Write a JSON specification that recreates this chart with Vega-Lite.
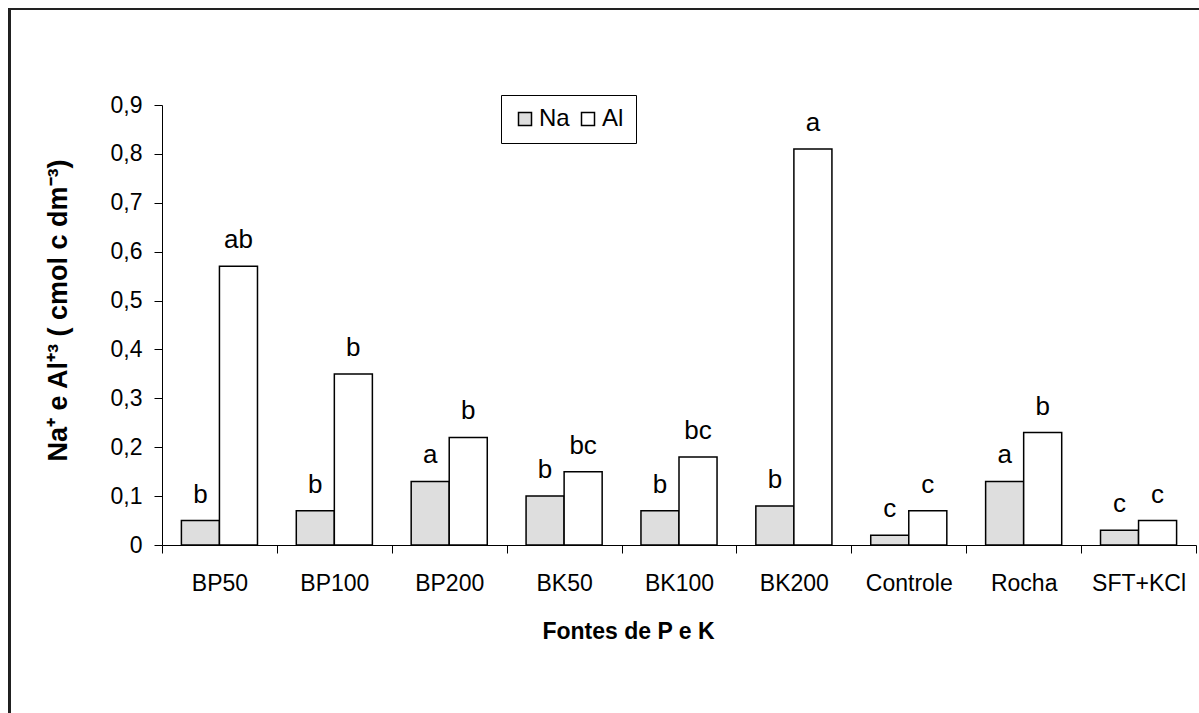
{
  "$schema": "https://vega.github.io/schema/vega-lite/v6.json",
  "width": 1034,
  "height": 440,
  "autosize": "none",
  "padding": {"left": 162, "top": 105, "right": 3, "bottom": 168},
  "background": "white",
  "config": {"view": {"stroke": null}, "font": "Liberation Sans"},
  "data": {
    "values": [
      {"fonte": "BP50", "serie": "Na", "valor": 0.05, "letra": "b"},
      {"fonte": "BP50", "serie": "Al", "valor": 0.57, "letra": "ab"},
      {"fonte": "BP100", "serie": "Na", "valor": 0.07, "letra": "b"},
      {"fonte": "BP100", "serie": "Al", "valor": 0.35, "letra": "b"},
      {"fonte": "BP200", "serie": "Na", "valor": 0.13, "letra": "a"},
      {"fonte": "BP200", "serie": "Al", "valor": 0.22, "letra": "b"},
      {"fonte": "BK50", "serie": "Na", "valor": 0.10, "letra": "b"},
      {"fonte": "BK50", "serie": "Al", "valor": 0.15, "letra": "bc"},
      {"fonte": "BK100", "serie": "Na", "valor": 0.07, "letra": "b"},
      {"fonte": "BK100", "serie": "Al", "valor": 0.18, "letra": "bc"},
      {"fonte": "BK200", "serie": "Na", "valor": 0.08, "letra": "b"},
      {"fonte": "BK200", "serie": "Al", "valor": 0.81, "letra": "a"},
      {"fonte": "Controle", "serie": "Na", "valor": 0.02, "letra": "c"},
      {"fonte": "Controle", "serie": "Al", "valor": 0.07, "letra": "c"},
      {"fonte": "Rocha", "serie": "Na", "valor": 0.13, "letra": "a"},
      {"fonte": "Rocha", "serie": "Al", "valor": 0.23, "letra": "b"},
      {"fonte": "SFT+KCl", "serie": "Na", "valor": 0.03, "letra": "c"},
      {"fonte": "SFT+KCl", "serie": "Al", "valor": 0.05, "letra": "c"}
    ]
  },
  "resolve": {"scale": {"x": "independent"}, "axis": {"x": "independent"}},
  "layer": [
    {
      "mark": {"type": "rect", "fill": null, "stroke": "#222", "strokeWidth": 2},
      "encoding": {
        "x": {"datum": -1.325, "type": "quantitative", "scale": {"domain": [0, 9], "nice": false, "zero": false}, "axis": null},
        "x2": {"datum": 12},
        "y": {"datum": 1.0964, "type": "quantitative", "scale": {"domain": [0, 0.9], "nice": false}},
        "y2": {"datum": -1}
      }
    },
    {
      "layer": [
        {
          "mark": {"type": "bar", "stroke": "black", "strokeWidth": 1.5},
          "encoding": {
            "x": {
              "field": "fonte", "type": "nominal",
              "sort": ["BP50", "BP100", "BP200", "BK50", "BK100", "BK200", "Controle", "Rocha", "SFT+KCl"],
              "scale": {"paddingInner": 0, "paddingOuter": 0},
              "axis": {
                "title": "Fontes de P e K",
                "labelAngle": 0,
                "tickBand": "extent",
                "tickSize": 8,
                "tickColor": "black",
                "domainColor": "black",
                "labelColor": "black",
                "labelFontSize": 23,
                "labelPadding": 19,
                "titleFontSize": 23,
                "titleFontWeight": "bold",
                "titleColor": "black",
                "titleX": 466,
                "titleY": 75
              }
            },
            "xOffset": {"field": "serie", "sort": ["Na", "Al"], "scale": {"paddingInner": 0, "paddingOuter": 0.51}},
            "y": {
              "field": "valor", "type": "quantitative",
              "scale": {"domain": [0, 0.9], "nice": false},
              "axis": {
                "values": [0, 0.1, 0.2, 0.3, 0.4, 0.5, 0.6, 0.7, 0.8, 0.9],
                "labelExpr": "datum.value == 0 ? '0' : replace(format(datum.value, '.1f'), '.', ',')",
                "grid": false,
                "tickSize": 8,
                "tickColor": "black",
                "domainColor": "black",
                "labelColor": "black",
                "labelFontSize": 23,
                "labelPadding": 12,
                "title": "Na⁺ e Al⁺³ ( cmol c dm⁻³)",
                "titleFontSize": 27,
                "titleFontWeight": "bold",
                "titleColor": "black",
                "titleX": -90,
                "titleY": 205
              }
            },
            "fill": {
              "field": "serie", "type": "nominal",
              "scale": {"domain": ["Na", "Al"], "range": ["#dedede", "#ffffff"]},
              "legend": {
                "title": null,
                "orient": "none",
                "legendX": 339,
                "legendY": -10,
                "direction": "horizontal",
                "symbolType": "square",
                "symbolSize": 169,
                "symbolStrokeColor": "black",
                "symbolStrokeWidth": 1.5,
                "symbolOpacity": 1,
                "labelFontSize": 24,
                "labelColor": "black",
                "labelOffset": 2,
                "columnPadding": 6,
                "padding": 12,
                "strokeColor": "black",
                "fillColor": "white"
              }
            }
          }
        },
        {
          "mark": {"type": "text", "fontSize": 26, "baseline": "alphabetic", "align": "center", "dy": -18, "color": "black"},
          "encoding": {
            "x": {
              "field": "fonte", "type": "nominal",
              "sort": ["BP50", "BP100", "BP200", "BK50", "BK100", "BK200", "Controle", "Rocha", "SFT+KCl"],
              "scale": {"paddingInner": 0, "paddingOuter": 0}
            },
            "xOffset": {"field": "serie", "sort": ["Na", "Al"], "scale": {"paddingInner": 0, "paddingOuter": 0.51}},
            "y": {"field": "valor", "type": "quantitative"},
            "text": {"field": "letra"}
          }
        }
      ]
    }
  ]
}
